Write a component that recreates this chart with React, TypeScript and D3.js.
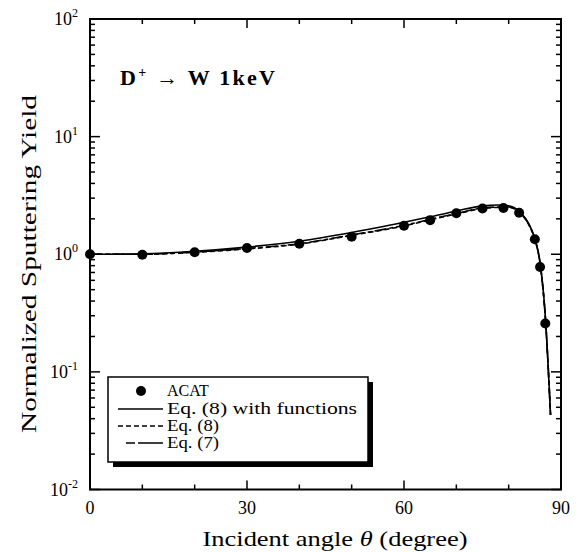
import React from "react";
import * as d3 from "d3";

const acatAngle = [0, 10, 20, 30, 40, 50, 60, 65, 70, 75, 79, 82, 85, 86, 87];
const acatYield = [1.0, 0.99, 1.04, 1.13, 1.23, 1.41, 1.75, 1.95, 2.23, 2.45, 2.47, 2.25, 1.34, 0.78, 0.258];

const curveAngle = [0, 10, 20, 30, 40, 50, 60, 65, 70, 75, 78, 80, 82, 84, 85, 86, 87, 88];
const eq8FuncYield = [1.0, 1.01, 1.06, 1.15, 1.29, 1.53, 1.87, 2.08, 2.33, 2.58, 2.62, 2.58, 2.32, 1.76, 1.36, 0.85, 0.3, 0.043];
const eq8Yield = [1.0, 1.0, 1.04, 1.11, 1.22, 1.45, 1.74, 1.96, 2.2, 2.45, 2.5, 2.5, 2.28, 1.73, 1.34, 0.83, 0.29, 0.043];
const eq7Yield = [1.0, 1.0, 1.045, 1.12, 1.23, 1.46, 1.76, 1.98, 2.22, 2.47, 2.52, 2.52, 2.3, 1.74, 1.35, 0.84, 0.295, 0.043];

const xTicks = [0, 30, 60, 90];
const xMinor = [10, 20, 40, 50, 70, 80];
const yExps = [-2, -1, 0, 1, 2];

const legendLabels = ["ACAT", "Eq. (8)  with functions", "Eq. (8)", "Eq. (7)"];
const legendWidths = [undefined, 190, 52, 52];

const FONT = "'Liberation Serif', 'Times New Roman', serif";
const fs = (size: number, extra: React.CSSProperties = {}): React.CSSProperties => ({ fontFamily: FONT, fontSize: size, ...extra });

export default function App() {
  const W = 584, H = 552;
  const L = 90, R = 561, T = 19, B = 489.5;
  const x = d3.scaleLinear().domain([0, 90]).range([L, R]);
  const y = d3.scaleLog().domain([0.01, 100]).range([B, T]);

  const line = d3.line<number>()
    .x((_, i) => x(curveAngle[i]))
    .y((v) => y(v))
    .curve(d3.curveMonotoneX);

  const yMinor: number[] = [];
  for (let e = -2; e < 2; e++) for (let m = 2; m <= 9; m++) yMinor.push(m * Math.pow(10, e));

  const legendX = 108, legendY = 377, legendW = 260, legendH = 85;
  const rowY = [391, 409, 426, 443];

  return (
    <svg width={W} height={H} style={{ position: "absolute", left: 0, top: 0, background: "#fff" }}>
      <rect x={0} y={0} width={W} height={H} fill="#fff" />
      {/* curves */}
      <g fill="none" stroke="#000">
        <path d={line(eq8FuncYield) || ""} strokeWidth={1.6} />
        <path d={line(eq8Yield) || ""} strokeWidth={1.6} strokeDasharray="5,3" />
        <path d={line(eq7Yield) || ""} strokeWidth={1.6} strokeDasharray="12,3,4,3" />
      </g>
      {acatAngle.map((a, i) => (
        <circle key={i} cx={x(a)} cy={y(acatYield[i])} r={5} fill="#000" />
      ))}
      {/* frame */}
      <rect x={L} y={T} width={R - L} height={B - T} fill="none" stroke="#000" strokeWidth={2} />
      {/* ticks */}
      <g stroke="#000" strokeWidth={1.5}>
        {xTicks.map((t) => (
          <g key={"xt" + t}>
            <line x1={x(t)} x2={x(t)} y1={B} y2={B - 9} />
            <line x1={x(t)} x2={x(t)} y1={T} y2={T + 9} />
          </g>
        ))}
        {xMinor.map((t) => (
          <g key={"xm" + t}>
            <line x1={x(t)} x2={x(t)} y1={B} y2={B - 5} />
            <line x1={x(t)} x2={x(t)} y1={T} y2={T + 5} />
          </g>
        ))}
        {yExps.map((e) => (
          <g key={"yt" + e}>
            <line x1={L} x2={L + 10} y1={y(Math.pow(10, e))} y2={y(Math.pow(10, e))} />
            <line x1={R} x2={R - 10} y1={y(Math.pow(10, e))} y2={y(Math.pow(10, e))} />
          </g>
        ))}
        {yMinor.map((v, i) => (
          <g key={"ym" + i}>
            <line x1={L} x2={L + 5} y1={y(v)} y2={y(v)} />
            <line x1={R} x2={R - 5} y1={y(v)} y2={y(v)} />
          </g>
        ))}
      </g>
      {/* tick labels */}
      {xTicks.map((t) => (
        <text key={"xl" + t} x={x(t)} y={514} textAnchor="middle" style={fs(18)}>{t}</text>
      ))}
      {yExps.map((e) => (
        <text key={"yl" + e} x={L - 12} y={y(Math.pow(10, e)) + 6} textAnchor="end" style={fs(18)}>
          10<tspan dy={-8} style={fs(12)}>{e}</tspan>
        </text>
      ))}
      {/* axis titles */}
      <text x={335} y={546} textAnchor="middle" style={fs(22)} textLength={265} lengthAdjust="spacingAndGlyphs">
        Incident angle <tspan style={fs(22, { fontStyle: "italic" })}>θ</tspan> (degree)
      </text>
      <text transform={`translate(36,264) rotate(-90)`} textAnchor="middle" style={fs(22)} textLength={338} lengthAdjust="spacingAndGlyphs">
        Normalized Sputtering Yield
      </text>
      {/* annotation */}
      <text x={120} y={85} style={fs(22, { fontWeight: "bold" })} textLength={155} lengthAdjust="spacing">
        D<tspan dy={-8} style={fs(14, { fontWeight: "bold" })}>+</tspan><tspan dy={8}> → W 1keV</tspan>
      </text>
      {/* legend */}
      <rect x={legendX + 5} y={legendY + 5} width={legendW} height={legendH} fill="#000" />
      <rect x={legendX} y={legendY} width={legendW} height={legendH} fill="#fff" stroke="#000" strokeWidth={1.5} />
      <circle cx={141} cy={rowY[0]} r={5} fill="#000" />
      <line x1={118} x2={163} y1={rowY[1]} y2={rowY[1]} stroke="#000" strokeWidth={1.5} />
      <line x1={118} x2={163} y1={rowY[2]} y2={rowY[2]} stroke="#000" strokeWidth={1.5} strokeDasharray="5,3" />
      <line x1={126} x2={163} y1={rowY[3]} y2={rowY[3]} stroke="#000" strokeWidth={1.5} strokeDasharray="9,3,25,0" />
      {legendLabels.map((lab, i) => (
        <text key={lab} x={167} y={rowY[i] + 5} style={fs(16)} textLength={legendWidths[i]} lengthAdjust="spacingAndGlyphs">{lab}</text>
      ))}
    </svg>
  );
}
